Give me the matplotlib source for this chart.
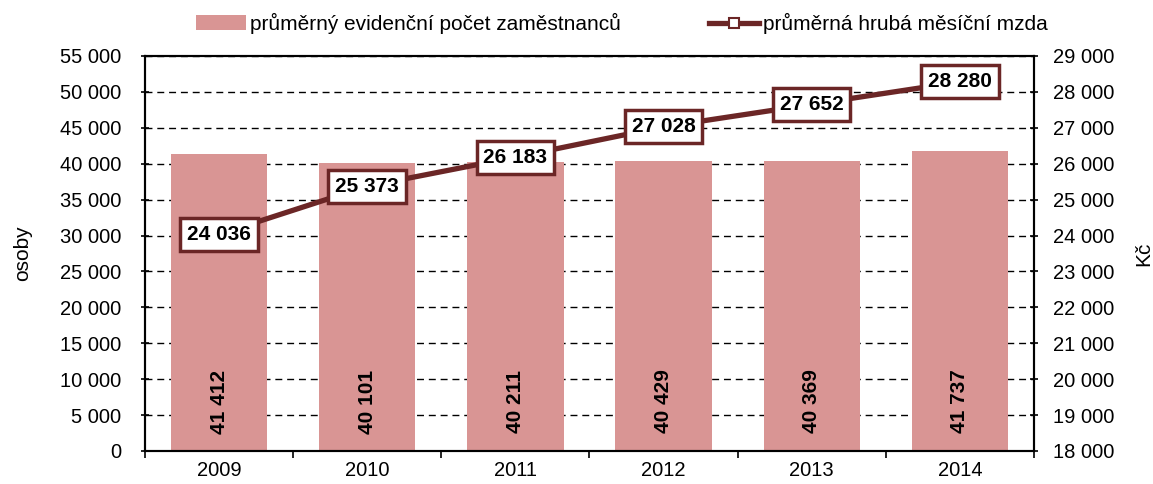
import matplotlib
matplotlib.use("Agg")
from matplotlib import pyplot as plt
import numpy as np

plt.rcParams['font.family'] = ['Liberation Sans', 'DejaVu Sans']

roky = ["2009", "2010", "2011", "2012", "2013", "2014"]
pocet_zamestnancu = [41412, 40101, 40211, 40429, 40369, 41737]
hruba_mzda = [24036, 25373, 26183, 27028, 27652, 28280]

barva_sloupcu = "#d99594"
barva_cary = "#6b2626"


def fmt(v):
    return f"{int(v):,}".replace(",", " ")


fig = plt.figure(figsize=(11.53, 4.84), dpi=100)
ax = fig.add_axes([0.1257, 0.0682, 0.7711, 0.8161])
ax2 = ax.twinx()

x = np.arange(len(roky))
sloupce = ax.bar(x, pocet_zamestnancu, width=0.65, color=barva_sloupcu,
                 label="průměrný evidenční počet zaměstnanců", zorder=2)
for xi, v in zip(x, pocet_zamestnancu):
    ax.text(xi, 6900, fmt(v), rotation=90, ha="center", va="center",
            fontsize=15, fontweight="bold", zorder=3)

ax.set_ylim(0, 55000)
ax.set_yticks(np.arange(0, 55001, 5000))
ax.set_yticklabels([fmt(t) for t in np.arange(0, 55001, 5000)], fontsize=14.5)
ax.set_xlim(-0.5, len(roky) - 0.5)
ax.set_xticks(x)
ax.set_xticklabels(roky, fontsize=14.5)
ax.set_xticks(np.arange(-0.5, len(roky)), minor=True)
ax.tick_params(axis="x", which="major", length=0, pad=7)
ax.tick_params(axis="x", which="minor", direction="out", length=5, width=1.2)
ax.tick_params(axis="y", direction="inout", length=6, width=1.2, pad=14)
ax.yaxis.grid(True, color="black", linestyle=(0, (5, 3.5)), linewidth=1)
ax.set_axisbelow(True)
for s in ["left", "bottom", "top", "right"]:
    ax.spines[s].set_linewidth(1.5)
ax.set_ylabel("osoby", fontsize=15, labelpad=20)

cara, = ax2.plot(x, hruba_mzda, color=barva_cary, linewidth=3.8, marker="s",
                 markersize=7, markerfacecolor="white", markeredgecolor=barva_cary,
                 markeredgewidth=1.5, label="průměrná hrubá měsíční mzda", zorder=4)
for xi, v in zip(x, hruba_mzda):
    ax2.text(xi, v, fmt(v), ha="center", va="center", fontsize=15, fontweight="bold",
             zorder=5, bbox=dict(boxstyle="square,pad=0.33", facecolor="white",
                                 edgecolor=barva_cary, linewidth=2.5))
ax2.set_ylim(18000, 29000)
ax2.set_yticks(np.arange(18000, 29001, 1000))
ax2.set_yticklabels([fmt(t) for t in np.arange(18000, 29001, 1000)], fontsize=14.5)
ax2.tick_params(axis="y", direction="inout", length=6, width=1.2, pad=11)
for s in ["left", "bottom", "top", "right"]:
    ax2.spines[s].set_linewidth(1.5)
ax2.set_ylabel("Kč", fontsize=15, rotation=90, labelpad=14)

fig.legend(handles=[sloupce, cara], loc="upper center", bbox_to_anchor=(0.5395, 1.012),
           ncol=2, frameon=False, fontsize=15, columnspacing=4.2, handlelength=2.4,
           handletextpad=0.2)

fig.savefig("out.png", dpi=100)
